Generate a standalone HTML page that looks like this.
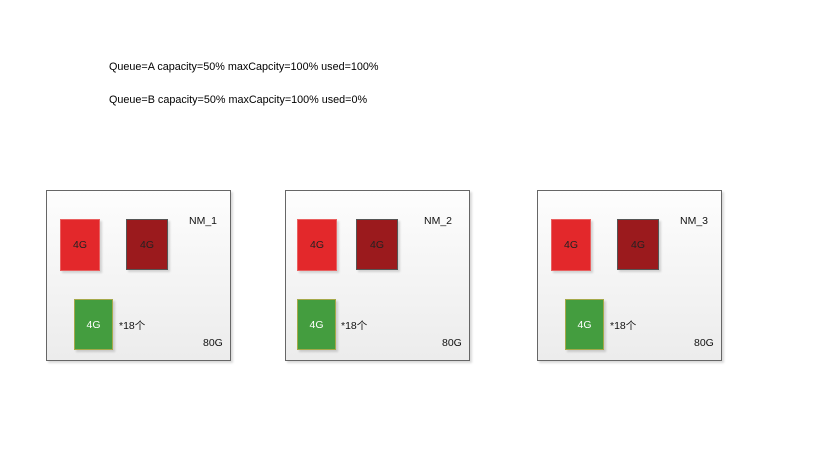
<!DOCTYPE html>
<html><head><meta charset="utf-8">
<style>
body{margin:0;width:823px;height:450px;background:#fff;position:relative;overflow:hidden;font-family:"Liberation Sans","Noto Sans CJK SC",sans-serif;font-size:10.5px;color:#111}
.t{position:absolute;white-space:nowrap}
.q{font-size:10.8px;color:#000}
.nm{position:absolute;width:183px;height:169px;border:1px solid #666;background:linear-gradient(#fdfdfd,#ececec);box-shadow:2px 2px 2px rgba(0,0,0,0.15)}
.b{position:absolute;display:flex;align-items:center;justify-content:center;box-shadow:2px 2px 2px rgba(0,0,0,0.15)}
.r{width:38px;height:50px;background:#e3282b;border:1px solid #e96060;color:#222}
.d{width:40px;height:49px;background:#9b1a1d;border:1px solid #555;color:#222}
.g{width:37px;height:49px;background:#449d3f;border:1px solid #a5a94a;color:#fff}
</style></head><body>
<div class="t q" style="left:109px;top:61px">Queue=A capacity=50% maxCapcity=100% used=100%</div>
<div class="t q" style="left:109px;top:94px">Queue=B capacity=50% maxCapcity=100% used=0%</div>

<div class="nm" style="left:46px;top:190px">
<div class="b r" style="left:13px;top:28px">4G</div>
<div class="b d" style="left:79px;top:28px">4G</div>
<div class="b g" style="left:27px;top:108px">4G</div>
<div class="t" style="left:72px;top:127px">*18个</div>
<div class="t" style="left:142px;top:24px">NM_1</div>
<div class="t" style="left:156px;top:146px">80G</div>
</div>

<div class="nm" style="left:285px;top:190px">
<div class="b r" style="left:11px;top:28px">4G</div>
<div class="b d" style="left:70px;top:28px">4G</div>
<div class="b g" style="left:11px;top:108px">4G</div>
<div class="t" style="left:55px;top:127px">*18个</div>
<div class="t" style="left:138px;top:24px">NM_2</div>
<div class="t" style="left:156px;top:146px">80G</div>
</div>

<div class="nm" style="left:537px;top:190px">
<div class="b r" style="left:13px;top:28px">4G</div>
<div class="b d" style="left:79px;top:28px">4G</div>
<div class="b g" style="left:27px;top:108px">4G</div>
<div class="t" style="left:72px;top:127px">*18个</div>
<div class="t" style="left:142px;top:24px">NM_3</div>
<div class="t" style="left:156px;top:146px">80G</div>
</div>
</body></html>
